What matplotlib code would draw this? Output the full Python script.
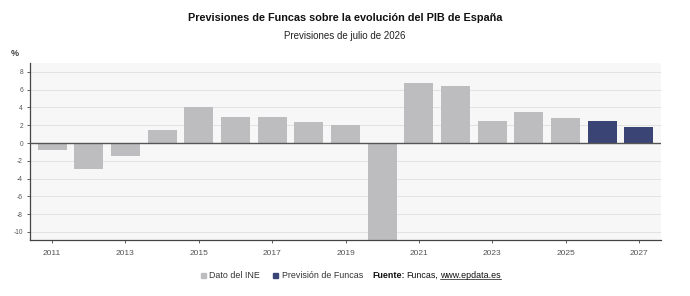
import matplotlib.pyplot as plt

# Datos: crecimiento del PIB (%)
years = [2011, 2012, 2013, 2014, 2015, 2016, 2017, 2018, 2019,
         2020, 2021, 2022, 2023, 2024, 2025, 2026, 2027]
ine = [-0.8, -2.9, -1.4, 1.5, 4.1, 2.9, 2.9, 2.4, 2.0,
       -11.2, 6.7, 6.4, 2.5, 3.5, 2.8, None, None]
funcas = [None] * 15 + [2.5, 1.8]
xticks = list(range(2011, 2028, 2))
yticks = list(range(-10, 9, 2))

GRAY = '#bdbdbf'
NAVY = '#3b4575'

plt.rcParams['font.family'] = ['Liberation Sans', 'DejaVu Sans']

W, H = 690, 296
fig = plt.figure(figsize=(W / 100, H / 100), dpi=100)
ax = fig.add_axes([30 / W, 1 - 240 / H, 631 / W, 177 / H])
ax.set_facecolor('#f7f7f7')

x_ine = [y for y, v in zip(years, ine) if v is not None]
v_ine = [v for v in ine if v is not None]
x_f = [y for y, v in zip(years, funcas) if v is not None]
v_f = [v for v in funcas if v is not None]

ax.bar(x_ine, v_ine, width=0.79, color=GRAY, zorder=2)
ax.bar(x_f, v_f, width=0.79, color=NAVY, zorder=2)

ax.set_xlim(2010.4, 2027.6)
ax.set_ylim(-10.9, 9.0)
ax.set_yticks(yticks)
ax.set_xticks(xticks)
ax.set_yticklabels([str(t) for t in yticks], fontsize=4.8, color='#555555')
ax.set_xticklabels([str(t) for t in xticks], fontsize=6, color='#555555')
ax.tick_params(axis='y', length=2, width=0.6, color='#444444', pad=3)
ax.tick_params(axis='x', length=2, width=0.6, color='#444444', pad=5)

ax.grid(axis='y', color='#e2e2e2', linewidth=0.7, zorder=0)
ax.axhline(0, color='#555555', linewidth=1.0, zorder=3)

for s in ['top', 'right']:
    ax.spines[s].set_visible(False)
for s in ['left', 'bottom']:
    ax.spines[s].set_color('#444444')
    ax.spines[s].set_linewidth(0.9)

fig.text(0.5, 1 - 18 / H, 'Previsiones de Funcas sobre la evolución del PIB de España',
         ha='center', va='center', fontsize=7.8, fontweight='bold', color='#111111')
fig.text(0.5, 1 - 36 / H, 'Previsiones de julio de 2026',
         ha='center', va='center', fontsize=7, color='#222222')
fig.text(11 / W, 1 - 53 / H, '%', ha='left', va='center', fontsize=6.5,
         fontweight='bold', color='#444444')

# Leyenda y fuente
ly = 1 - 275 / H
fs = 6.4
fig.patches.append(plt.Rectangle((201 / W, ly - 2.5 / H), 5 / W, 5 / H,
                                 transform=fig.transFigure, color=GRAY))
fig.text(209 / W, ly, 'Dato del INE', ha='left', va='center', fontsize=fs, color='#333333')
fig.patches.append(plt.Rectangle((273 / W, ly - 2.5 / H), 5 / W, 5 / H,
                                 transform=fig.transFigure, color=NAVY))
fig.text(282 / W, ly, 'Previsión de Funcas', ha='left', va='center', fontsize=fs, color='#333333')

r = fig.canvas.get_renderer()
x = 372
t = fig.text(x / W, ly, 'Fuente:', ha='left', va='center', fontsize=fs,
             fontweight='bold', color='#111111')
x = t.get_window_extent(r).x1 + 2
t = fig.text(x / W, ly, 'Funcas,', ha='left', va='center', fontsize=fs, color='#111111')
x = t.get_window_extent(r).x1 + 2
link = fig.text(x / W, ly, 'www.epdata.es', ha='left', va='center', fontsize=fs,
                color='#111111')
bb = link.get_window_extent(r)
fig.add_artist(plt.Line2D([bb.x0 / W, bb.x1 / W], [(bb.y0 + 0.5) / H] * 2,
                          color='#111111', linewidth=0.5))

fig.savefig('out.png', dpi=100, facecolor='white')
